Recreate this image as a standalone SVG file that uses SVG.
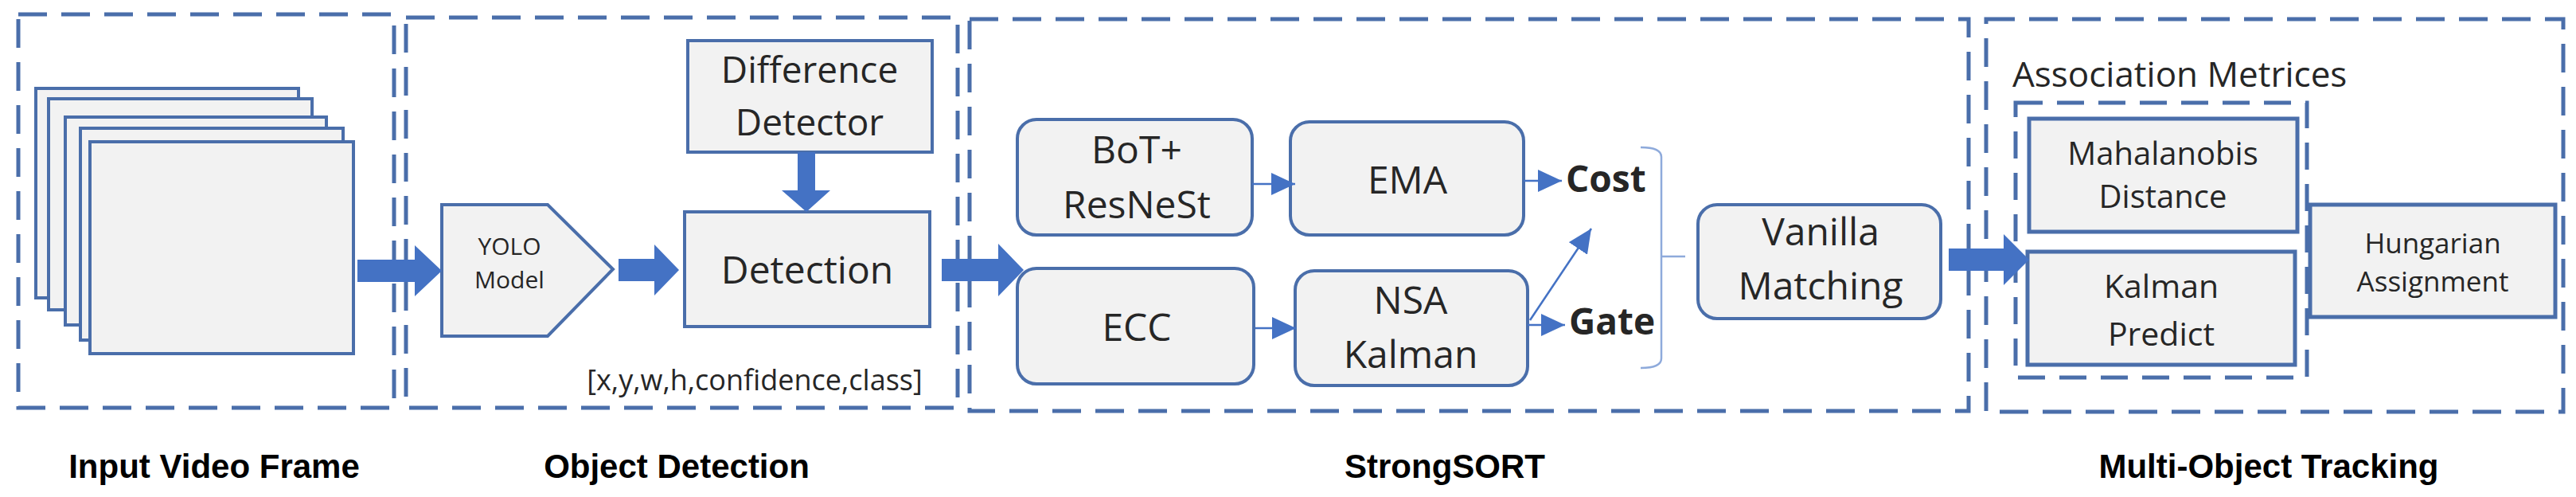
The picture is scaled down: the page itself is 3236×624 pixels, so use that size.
<svg xmlns="http://www.w3.org/2000/svg" width="3236" height="624" viewBox="0 0 3236 624">
<style>
.grp{fill:none;stroke:#4a6eaa;stroke-width:5;stroke-dasharray:36 18}
.inner{fill:none;stroke:#4a6eaa;stroke-width:5;stroke-dasharray:34 18}
.frame{fill:#f2f2f2;stroke:#4a6eaa;stroke-width:4}
.node{fill:#f2f2f2;stroke:#4a6eaa;stroke-width:4}
.mnode{fill:#f2f2f2;stroke:#4a6eaa;stroke-width:5}
.t{font-family:"Open Sans","Noto Sans",sans-serif;fill:#262626;text-anchor:middle}
.lbl{font-family:"Liberation Sans",Arial,sans-serif;font-weight:bold;font-size:42px;fill:#000;text-anchor:middle}
.thick{fill:#4472c4}
.thin{stroke:#4472c4;stroke-width:2.5;fill:none}
.brace{stroke:#8eaadb;stroke-width:2.5;fill:none}
</style>
<defs>
<marker id="ah" markerUnits="userSpaceOnUse" markerWidth="30" markerHeight="28" refX="30" refY="14" orient="auto">
<path d="M0,0 L30,14 L0,28 z" fill="#4472c4"/>
</marker>
</defs>

<g id="groups">
<rect id="g-input" class="grp" x="23" y="18" width="472" height="494"/>
<rect id="g-detect" class="grp" x="510" y="22" width="693" height="490"/>
<rect id="g-strongsort" class="grp" x="1218" y="24" width="1255" height="492"/>
<rect id="g-mot" class="grp" x="2495" y="24" width="725" height="493"/>
<rect id="g-assoc" class="inner" x="2532" y="129" width="366" height="345"/>
</g>

<g id="input-frames">
<rect class="frame" x="45" y="111" width="330" height="263"/>
<rect class="frame" x="61" y="124" width="331" height="265"/>
<rect class="frame" x="82" y="147" width="328" height="261"/>
<rect class="frame" x="101" y="161" width="330" height="266"/>
<rect class="frame" x="113" y="178" width="331" height="266"/>
</g>

<g id="yolo">
<path class="node" d="M555,257 L688,257 L770,338 L688,422 L555,422 Z"/>
<text class="t" font-size="30" fill="#404040"><tspan x="640" y="320">YOLO</tspan><tspan x="640" y="362">Model</tspan></text>
</g>

<g id="difference-detector">
<rect class="node" x="864" y="51" width="307" height="140"/>
<text class="t" font-size="46"><tspan x="1017" y="104">Difference</tspan><tspan x="1017" y="170">Detector</tspan></text>
</g>

<g id="detection">
<rect class="node" x="860" y="266" width="308" height="144"/>
<text class="t" font-size="48" x="1014" y="356">Detection</text>
<text class="t" font-size="36" fill="#404040" x="948" y="490">[x,y,w,h,confidence,class]</text>
</g>

<g id="bot">
<rect class="node" x="1278" y="150" width="295" height="145" rx="24"/>
<text class="t" font-size="48"><tspan x="1428" y="205">BoT+</tspan><tspan x="1428" y="274">ResNeSt</tspan></text>
</g>

<g id="ecc">
<rect class="node" x="1278" y="337" width="297" height="145" rx="24"/>
<text class="t" font-size="48" x="1428" y="428">ECC</text>
</g>

<g id="ema">
<rect class="node" x="1621" y="153" width="293" height="142" rx="24"/>
<text class="t" font-size="48" x="1768" y="243">EMA</text>
</g>

<g id="nsa">
<rect class="node" x="1627" y="340" width="292" height="144" rx="24"/>
<text class="t" font-size="48"><tspan x="1772" y="394">NSA</tspan><tspan x="1772" y="462">Kalman</tspan></text>
</g>

<g id="cost">
<text class="t" font-size="46" font-weight="bold" fill="#000" text-anchor="start" x="1967" y="241" style="text-anchor:start">Cost</text>
</g>
<g id="gate">
<text class="t" font-size="46" font-weight="bold" fill="#000" x="1971" y="420" style="text-anchor:start">Gate</text>
</g>

<g id="vanilla">
<rect class="node" x="2133" y="257" width="305" height="143" rx="24"/>
<text class="t" font-size="48"><tspan x="2287" y="308">Vanilla</tspan><tspan x="2287" y="376">Matching</tspan></text>
</g>

<text class="t" font-size="44" fill="#404040" x="2528" y="109" style="text-anchor:start">Association Metrices</text>

<g id="mahalanobis">
<rect class="mnode" x="2549" y="149" width="337" height="142"/>
<text class="t" font-size="40"><tspan x="2717" y="207">Mahalanobis</tspan><tspan x="2717" y="261">Distance</tspan></text>
</g>

<g id="kalman-predict">
<rect class="mnode" x="2547" y="316" width="336" height="142"/>
<text class="t" font-size="41"><tspan x="2715" y="374">Kalman</tspan><tspan x="2715" y="434">Predict</tspan></text>
</g>

<g id="hungarian">
<rect class="mnode" x="2902" y="257" width="308" height="141"/>
<text class="t" font-size="35"><tspan x="3056" y="318">Hungarian</tspan><tspan x="3056" y="366">Assignment</tspan></text>
</g>

<g id="connectors">
<path class="thick" d="M449,326 L521,326 L521,308 L555,340 L521,372 L521,354 L449,354 Z"/>
<path class="thick" d="M777,325 L822,325 L822,307 L853,339 L822,371 L822,353 L777,353 Z"/>
<path class="thick" d="M1002,191 L1024,191 L1024,239 L1043,239 L1013,266 L982,239 L1002,239 Z"/>
<path class="thick" d="M1183,325 L1254,325 L1254,306 L1286,339 L1254,372 L1254,353 L1183,353 Z"/>
<path class="thick" d="M2448,312 L2517,312 L2517,294 L2549,326 L2517,358 L2517,340 L2448,340 Z"/>
<line class="thin" x1="1573" y1="231" x2="1627" y2="231" marker-end="url(#ah)"/>
<line class="thin" x1="1577" y1="412" x2="1628" y2="412" marker-end="url(#ah)"/>
<line class="thin" x1="1914" y1="227" x2="1962" y2="227" marker-end="url(#ah)"/>
<line class="thin" x1="1919" y1="408" x2="1966" y2="408" marker-end="url(#ah)"/>
<line class="thin" x1="1922" y1="402" x2="1999" y2="287" marker-end="url(#ah)"/>
<path class="brace" d="M2061,185 Q2087,185 2087,197 L2087,450 Q2087,462 2061,462"/>
<line class="brace" x1="2087" y1="322" x2="2117" y2="322"/>
</g>

<g id="labels">
<text class="lbl" x="269" y="600">Input Video Frame</text>
<text class="lbl" x="850" y="600">Object Detection</text>
<text class="lbl" x="1815" y="600">StrongSORT</text>
<text class="lbl" x="2850" y="600">Multi-Object Tracking</text>
</g>
</svg>
